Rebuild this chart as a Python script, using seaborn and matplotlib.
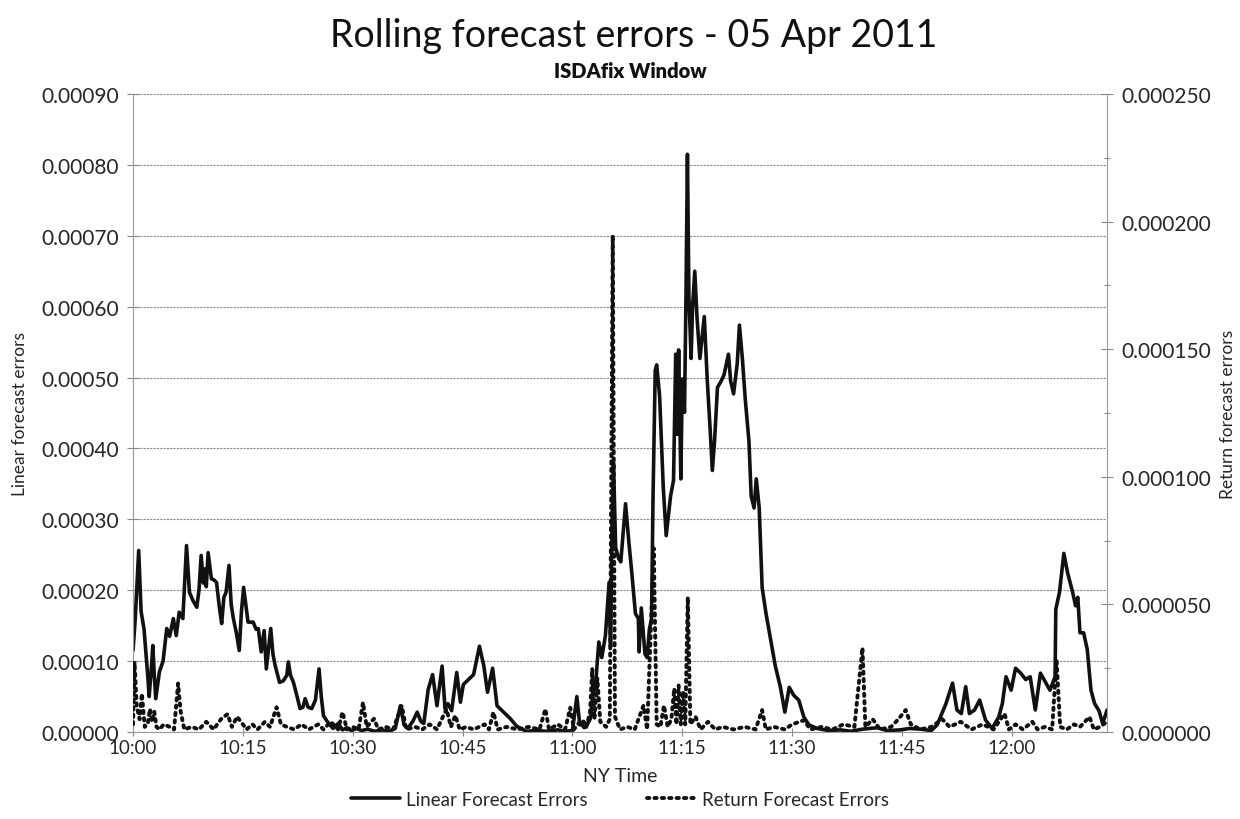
import matplotlib
matplotlib.use("Agg")
import matplotlib.pyplot as plt
import matplotlib.ticker as mticker
import seaborn as sns

# minutes after 10:00 NY time, linear forecast errors (left axis)
lin_minutes = [
    0.0, 0.3, 0.77, 1.1, 1.5, 2.0, 2.2, 2.5, 2.7, 2.9, 3.1, 3.6, 4.1, 4.6, 5.0, 5.5, 5.9, 6.3, 6.8,
    7.3, 7.7, 8.2, 8.7, 9.0, 9.3, 9.6, 9.8, 10.0, 10.25, 10.7, 11.0, 11.4, 11.8, 12.1, 12.4, 12.7,
    13.1, 13.4, 13.7, 14.1, 14.5, 14.8, 15.1, 15.4, 15.7, 16.4, 16.8, 17.1, 17.5, 17.9, 18.2, 18.8,
    19.1, 19.4, 20.0, 20.5, 21.0, 21.2, 21.5, 21.9, 22.4, 22.8, 23.2, 23.5, 23.9, 24.4, 24.9, 25.4,
    25.7, 26.0, 26.5, 27.3, 28.0, 28.6, 29.2, 29.8, 30.5, 31.2, 32.0, 33.0, 34.0, 35.0, 35.8, 36.5,
    37.0, 37.5, 38.2, 38.8, 39.3, 39.7, 40.3, 40.9, 41.5, 42.2, 42.6, 43.0, 43.5, 44.2, 44.7, 45.1,
    45.8, 46.5, 47.3, 47.9, 48.4, 49.1, 49.7, 50.6, 51.5, 52.4, 53.7, 55.0, 56.5, 58.0, 59.0, 60.0,
    60.6, 61.0, 61.5, 62.0, 62.5, 62.9, 63.1, 63.6, 64.0, 64.5, 65.0, 65.2, 65.4, 65.6, 65.9, 66.3,
    66.6, 67.0, 67.25, 67.7, 68.1, 68.6, 69.0, 69.1, 69.4, 69.9, 70.2, 70.5, 70.8, 71.0, 71.3, 71.5,
    71.9, 72.4, 72.8, 73.4, 73.8, 74.1, 74.3, 74.5, 74.8, 75.0, 75.3, 75.5, 75.7, 75.9, 76.2, 76.4,
    76.7, 77.0, 77.4, 77.7, 78.0, 78.4, 78.8, 79.1, 79.4, 79.8, 80.3, 80.7, 81.3, 81.6, 82.0, 82.5,
    82.8, 83.2, 83.6, 84.1, 84.4, 84.8, 85.1, 85.5, 85.9, 86.4, 87.1, 87.7, 88.4, 89.0, 89.6, 90.2,
    90.9, 91.6, 92.3, 93.4, 95.0, 96.6, 98.0, 99.6, 101.6, 103.0, 104.8, 106.0, 107.6, 109.0, 109.8,
    110.4, 111.0, 111.9, 112.5, 113.1, 113.7, 114.2, 114.9, 115.6, 116.4, 117.3, 118.2, 118.7, 119.2,
    119.9, 120.5, 121.2, 121.9, 122.5, 123.2, 123.9, 124.5, 125.2, 125.9, 126.0, 126.5, 127.1, 127.6,
    128.3, 128.7, 129.0, 129.3, 129.8, 130.3, 130.8, 131.3, 131.9, 132.4, 133.0,
]
lin_errors = [
    1.15e-4, 1.6e-4, 2.56e-4, 1.7e-4, 1.45e-4, 0.8e-4, 0.5e-4, 0.9e-4, 1.22e-4, 0.8e-4, 0.47e-4,
    0.85e-4, 1.0e-4, 1.46e-4, 1.35e-4, 1.6e-4, 1.36e-4, 1.69e-4, 1.6e-4, 2.63e-4, 1.97e-4, 1.85e-4,
    1.76e-4, 2.0e-4, 2.49e-4, 2.1e-4, 2.3e-4, 2.05e-4, 2.53e-4, 2.16e-4, 2.15e-4, 2.11e-4, 1.75e-4,
    1.53e-4, 1.9e-4, 1.97e-4, 2.35e-4, 1.8e-4, 1.6e-4, 1.4e-4, 1.15e-4, 1.7e-4, 2.04e-4, 1.8e-4,
    1.55e-4, 1.55e-4, 1.45e-4, 1.46e-4, 1.13e-4, 1.43e-4, 0.89e-4, 1.46e-4, 1.1e-4, 0.94e-4, 0.7e-4,
    0.72e-4, 0.8e-4, 0.99e-4, 0.8e-4, 0.7e-4, 0.5e-4, 0.33e-4, 0.35e-4, 0.47e-4, 0.35e-4, 0.33e-4,
    0.45e-4, 0.89e-4, 0.5e-4, 0.23e-4, 0.15e-4, 0.05e-4, 0.12e-4, 0.03e-4, 0.06e-4, 0.02e-4, 0.05e-4,
    0.02e-4, 0.04e-4, 0.01e-4, 0.03e-4, 0.01e-4, 0.05e-4, 0.37e-4, 0.1e-4, 0.05e-4, 0.15e-4, 0.28e-4,
    0.15e-4, 0.12e-4, 0.6e-4, 0.81e-4, 0.37e-4, 0.93e-4, 0.33e-4, 0.4e-4, 0.3e-4, 0.84e-4, 0.42e-4,
    0.67e-4, 0.74e-4, 0.81e-4, 1.21e-4, 0.93e-4, 0.56e-4, 0.9e-4, 0.37e-4, 0.28e-4, 0.19e-4, 0.08e-4,
    0.01e-4, 0.02e-4, 0.01e-4, 0.03e-4, 0.01e-4, 0.02e-4, 0.5e-4, 0.1e-4, 0.15e-4, 0.1e-4, 0.2e-4,
    0.7e-4, 0.6e-4, 1.27e-4, 1.05e-4, 1.36e-4, 2.11e-4, 1.2e-4, 2.82e-4, 3.8e-4, 2.6e-4, 2.45e-4,
    2.4e-4, 2.9e-4, 3.22e-4, 2.68e-4, 2.25e-4, 1.67e-4, 1.6e-4, 1.13e-4, 1.75e-4, 1.1e-4, 1.05e-4,
    1.45e-4, 1.6e-4, 3.3e-4, 5.1e-4, 5.18e-4, 4.74e-4, 3.45e-4, 2.77e-4, 3.33e-4, 3.55e-4, 5.33e-4,
    4.2e-4, 5.39e-4, 3.57e-4, 4.98e-4, 4.51e-4, 6.15e-4, 8.15e-4, 6.15e-4, 5.27e-4, 6.0e-4, 6.5e-4,
    5.86e-4, 5.27e-4, 5.57e-4, 5.86e-4, 4.98e-4, 4.27e-4, 3.69e-4, 4.1e-4, 4.86e-4, 4.95e-4, 5.04e-4,
    5.33e-4, 4.95e-4, 4.77e-4, 5.2e-4, 5.74e-4, 5.27e-4, 4.69e-4, 4.1e-4, 3.33e-4, 3.16e-4, 3.57e-4,
    3.16e-4, 2.04e-4, 1.69e-4, 1.28e-4, 0.93e-4, 0.63e-4, 0.28e-4, 0.63e-4, 0.52e-4, 0.45e-4,
    0.21e-4, 0.1e-4, 0.05e-4, 0.02e-4, 0.03e-4, 0.01e-4, 0.04e-4, 0.06e-4, 0.02e-4, 0.03e-4, 0.05e-4,
    0.04e-4, 0.02e-4, 0.1e-4, 0.25e-4, 0.4e-4, 0.69e-4, 0.31e-4, 0.26e-4, 0.64e-4, 0.26e-4, 0.31e-4,
    0.45e-4, 0.17e-4, 0.05e-4, 0.21e-4, 0.4e-4, 0.78e-4, 0.59e-4, 0.9e-4, 0.83e-4, 0.74e-4, 0.78e-4,
    0.31e-4, 0.83e-4, 0.72e-4, 0.59e-4, 0.78e-4, 1.73e-4, 1.97e-4, 2.52e-4, 2.25e-4, 1.97e-4,
    1.78e-4, 1.9e-4, 1.4e-4, 1.4e-4, 1.16e-4, 0.59e-4, 0.4e-4, 0.3e-4, 0.12e-4, 0.31e-4,
]

# minutes after 10:00 NY time, return forecast errors (right axis)
ret_minutes = [
    0.0, 0.2, 0.5, 0.9, 1.2, 1.6, 2.0, 2.3, 2.6, 2.9, 3.2, 3.6, 4.2, 5.0, 5.6, 6.15, 6.5, 7.0, 8.0,
    9.0, 10.0, 11.0, 12.0, 12.9, 13.5, 14.2, 15.0, 15.5, 16.3, 17.0, 18.0, 18.7, 19.6, 20.2, 21.0,
    22.0, 23.0, 24.0, 25.3, 26.0, 27.0, 28.0, 28.6, 29.2, 30.0, 30.8, 31.4, 31.9, 32.9, 33.5, 34.5,
    35.5, 36.7, 37.3, 38.5, 39.5, 40.5, 41.5, 42.8, 43.4, 44.0, 44.6, 45.5, 46.5, 48.0, 48.6, 49.2,
    49.8, 51.0, 52.5, 54.0, 55.5, 56.3, 56.8, 58.0, 59.0, 59.7, 60.2, 61.0, 61.8, 62.4, 62.7, 63.0,
    63.4, 63.8, 64.6, 65.1, 65.5, 65.8, 66.5, 67.5, 68.5, 69.7, 70.2, 71.1, 71.5, 72.0, 72.5, 73.0,
    73.5, 73.9, 74.2, 74.5, 74.8, 75.1, 75.4, 75.75, 76.1, 76.8, 77.5, 78.5, 79.5, 80.5, 82.0, 83.5,
    85.0, 85.9, 86.4, 87.5, 89.0, 90.0, 91.6, 92.5, 94.0, 95.5, 97.0, 98.5, 99.6, 100.0, 101.0, 102.0,
    103.5, 104.5, 105.5, 106.2, 107.5, 109.0, 110.5, 111.5, 113.0, 114.5, 116.0, 117.5, 119.0, 119.6,
    120.5, 121.5, 122.8, 123.5, 124.5, 125.5, 126.1, 126.6, 127.5, 128.5, 129.3, 130.6, 131.2, 132.0,
    133.0,
]
ret_errors = [
    0.3e-5, 2.74e-5, 1.0e-5, 0.5e-5, 1.5e-5, 0.2e-5, 0.3e-5, 0.9e-5, 0.4e-5, 0.8e-5, 0.2e-5, 0.1e-5,
    0.3e-5, 0.2e-5, 0.1e-5, 1.9e-5, 0.8e-5, 0.1e-5, 0.2e-5, 0.1e-5, 0.4e-5, 0.1e-5, 0.5e-5, 0.7e-5,
    0.2e-5, 0.6e-5, 0.3e-5, 0.1e-5, 0.3e-5, 0.1e-5, 0.4e-5, 0.2e-5, 0.97e-5, 0.3e-5, 0.2e-5, 0.1e-5,
    0.3e-5, 0.1e-5, 0.3e-5, 0.1e-5, 0.4e-5, 0.1e-5, 0.78e-5, 0.1e-5, 0.2e-5, 0.1e-5, 1.16e-5, 0.2e-5,
    0.52e-5, 0.1e-5, 0.2e-5, 0.1e-5, 1.03e-5, 0.1e-5, 0.2e-5, 0.1e-5, 0.3e-5, 0.1e-5, 0.9e-5, 0.2e-5,
    0.65e-5, 0.1e-5, 0.2e-5, 0.1e-5, 0.3e-5, 0.1e-5, 0.78e-5, 0.1e-5, 0.2e-5, 0.1e-5, 0.2e-5, 0.1e-5,
    0.9e-5, 0.1e-5, 0.3e-5, 0.1e-5, 0.95e-5, 0.1e-5, 0.4e-5, 0.1e-5, 0.78e-5, 2.48e-5, 0.5e-5, 2.1e-5,
    0.4e-5, 0.2e-5, 0.5e-5, 19.45e-5, 0.6e-5, 0.1e-5, 0.2e-5, 0.1e-5, 1.04e-5, 0.1e-5, 7.2e-5, 0.3e-5,
    0.2e-5, 1.04e-5, 0.2e-5, 0.5e-5, 1.7e-5, 0.3e-5, 1.83e-5, 0.3e-5, 1.6e-5, 0.3e-5, 5.28e-5, 0.3e-5,
    0.6e-5, 0.1e-5, 0.4e-5, 0.1e-5, 0.2e-5, 0.1e-5, 0.2e-5, 0.1e-5, 0.86e-5, 0.1e-5, 0.2e-5, 0.1e-5,
    0.3e-5, 0.46e-5, 0.1e-5, 0.2e-5, 0.1e-5, 0.3e-5, 0.2e-5, 3.3e-5, 0.2e-5, 0.5e-5, 0.1e-5, 0.2e-5,
    0.5e-5, 0.86e-5, 0.3e-5, 0.1e-5, 0.2e-5, 0.5e-5, 0.2e-5, 0.4e-5, 0.1e-5, 0.3e-5, 0.1e-5, 0.72e-5,
    0.1e-5, 0.3e-5, 0.1e-5, 0.4e-5, 0.1e-5, 0.2e-5, 0.1e-5, 2.83e-5, 0.2e-5, 0.1e-5, 0.3e-5, 0.2e-5,
    0.59e-5, 0.1e-5, 0.2e-5, 0.4e-5,
]

tick_minutes = [0, 15, 30, 45, 60, 75, 90, 105, 120]
tick_labels = ["10:00", "10:15", "10:30", "10:45", "11:00", "11:15", "11:30", "11:45", "12:00"]

sns.set_style("white")
plt.rcParams["font.family"] = ["Lato", "DejaVu Sans"]

fig = plt.figure(figsize=(12.4, 8.2), dpi=100)
ax = fig.add_axes([0.1073, 0.1061, 0.7855, 0.778])
ax2 = ax.twinx()

sns.lineplot(x=lin_minutes, y=lin_errors, ax=ax, color="#111111", linewidth=2.6,
             label="Linear Forecast Errors", legend=False)
sns.lineplot(x=ret_minutes, y=ret_errors, ax=ax2, color="#111111", linewidth=2.8,
             linestyle=(0, (0.6, 1.3)), dash_capstyle="round",
             label="Return Forecast Errors", legend=False)

ax.set_xlim(0, 133)
ax.set_ylim(0, 0.0009)
ax2.set_ylim(0, 0.00025)
ax.set_xticks(tick_minutes)
ax.set_xticklabels(tick_labels)
ax.yaxis.set_major_locator(mticker.MultipleLocator(0.0001))
ax.yaxis.set_major_formatter(mticker.FormatStrFormatter("%.5f"))
ax2.yaxis.set_major_locator(mticker.MultipleLocator(0.00005))
ax2.yaxis.set_minor_locator(mticker.MultipleLocator(0.000025))
ax2.yaxis.set_major_formatter(mticker.FormatStrFormatter("%.6f"))

ax.grid(axis="y", color="#8a8a8a", linewidth=0.8, linestyle=(0, (2, 1)))
ax.grid(axis="x", visible=False)
ax2.grid(False)

for a in (ax, ax2):
    a.spines["top"].set_visible(False)
    for side in ("left", "right", "bottom"):
        a.spines[side].set_color("#999999")
        a.spines[side].set_linewidth(0.8)
ax.spines["right"].set_visible(False)
ax2.spines["left"].set_visible(False)
ax2.spines["bottom"].set_visible(False)

ax.tick_params(axis="y", direction="inout", length=8, width=0.8, color="#888888",
               labelsize=15, pad=6, left=True)
ax.tick_params(axis="x", direction="inout", length=6, width=0.8, color="#888888",
               labelsize=13.5, pad=2, bottom=True)
ax2.tick_params(axis="y", which="major", direction="inout", length=8, width=0.8,
                color="#888888", labelsize=15, pad=6, right=True)
ax2.tick_params(axis="y", which="minor", direction="inout", length=5, width=0.8,
                color="#888888", right=True)

ax.set_xlabel("NY Time", fontsize=14, labelpad=8)
ax.set_ylabel("Linear forecast errors", fontsize=12.5)
ax2.set_ylabel("Return forecast errors", fontsize=12.5)
ax.yaxis.set_label_coords(-0.108, 0.5)
ax2.yaxis.set_label_coords(1.116, 0.5)

fig.text(0.511, 0.956, "Rolling forecast errors - 05 Apr 2011", ha="center", va="center",
         fontsize=27, color="#111111")
fig.text(0.508, 0.913, "ISDAfix Window", ha="center", va="center", fontsize=14.5,
         fontweight="heavy", color="#111111")

h1, l1 = ax.get_legend_handles_labels()
h2, l2 = ax2.get_legend_handles_labels()
fig.legend(h1 + h2, l1 + l2, loc="center", bbox_to_anchor=(0.5, 0.024), ncol=2,
           frameon=False, fontsize=13.5, handlelength=2.6, handletextpad=0.3, columnspacing=3.2)

fig.savefig("out.png", dpi=100)
plt.close(fig)
